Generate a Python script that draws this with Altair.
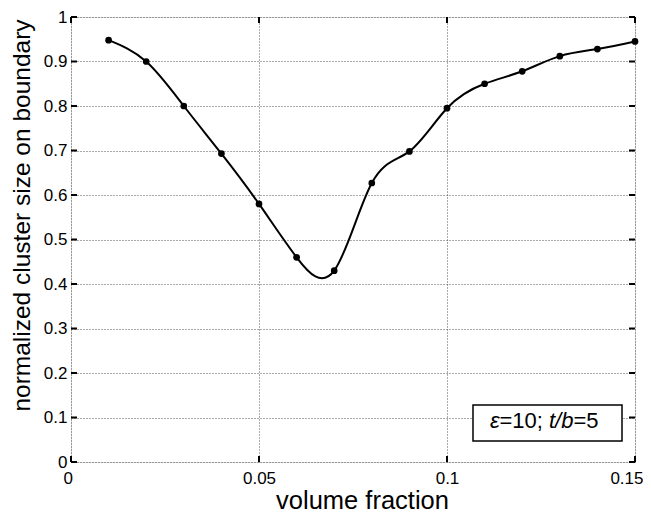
import altair as alt
import pandas as pd

vol_fraction = [0.01, 0.02, 0.03, 0.04, 0.05, 0.06, 0.07, 0.08, 0.09, 0.10, 0.11, 0.12, 0.13, 0.14, 0.15]
cluster_size = [0.948, 0.900, 0.800, 0.693, 0.580, 0.460, 0.430, 0.627, 0.698, 0.795, 0.850, 0.878, 0.912, 0.928, 0.945]
x_ticks = [0, 0.05, 0.1, 0.15]
y_ticks = [0, 0.1, 0.2, 0.3, 0.4, 0.5, 0.6, 0.7, 0.8, 0.9, 1.0]

W, H = 564, 445
FONT = "Liberation Sans"

df = pd.DataFrame({"x": vol_fraction, "y": cluster_size})
xt = pd.DataFrame({"x": x_ticks})
yt = pd.DataFrame({"y": y_ticks})

xs = alt.Scale(domain=[0, 0.15], nice=False, zero=False)
ys = alt.Scale(domain=[0, 1], nice=False, zero=False)

x_label_expr = "datum.value < 0.01 ? '0' : datum.value < 0.07 ? '0.05' : datum.value < 0.12 ? '0.1' : '0.15'"

x_axis = alt.Axis(values=x_ticks, labelExpr=x_label_expr,
                  title="volume fraction", grid=True, gridDash=[1, 2], gridColor="#555555",
                  gridWidth=1, ticks=False, domain=False, labelFont=FONT, labelFontSize=17,
                  labelColor="black", labelPadding=8, labelFlush=True, labelFlushOffset=8,
                  titleFont=FONT, titleFontSize=25.5,
                  titleFontWeight="normal", titleColor="black", titleBaseline="alphabetic",
                  titleX=291, titleY=46)
y_axis = alt.Axis(values=y_ticks, labelExpr="datum.value == 0 ? '0' : datum.value == 1 ? '1' : format(datum.value, '.1f')",
                  title="normalized  cluster size on boundary", grid=True, gridDash=[1, 2],
                  gridColor="#555555", gridWidth=1, ticks=False, domain=False, labelFont=FONT,
                  labelFontSize=17, labelColor="black", labelPadding=4, labelFlush=False, titleFont=FONT,
                  titleFontSize=24.5, titleFontWeight="normal", titleColor="black", titlePadding=9,
                  titleY=198)

base = alt.Chart(df)
line = base.mark_line(color="black", strokeWidth=2, interpolate="natural").encode(
    x=alt.X("x:Q", scale=xs, axis=x_axis),
    y=alt.Y("y:Q", scale=ys, axis=y_axis),
)
points = base.mark_point(shape="circle", filled=True, color="black", size=45, opacity=1).encode(
    x=alt.X("x:Q", scale=xs), y=alt.Y("y:Q", scale=ys)
)

tick_len = 6
xt_bottom = alt.Chart(xt).mark_rule(color="black", strokeWidth=2).encode(
    x=alt.X("x:Q", scale=xs), y=alt.value(H), y2=alt.value(H - tick_len))
xt_top = alt.Chart(xt).mark_rule(color="black", strokeWidth=2).encode(
    x=alt.X("x:Q", scale=xs), y=alt.value(0), y2=alt.value(tick_len))
yt_left = alt.Chart(yt).mark_rule(color="black", strokeWidth=2).encode(
    y=alt.Y("y:Q", scale=ys), x=alt.value(0), x2=alt.value(tick_len))
yt_right = alt.Chart(yt).mark_rule(color="black", strokeWidth=2).encode(
    y=alt.Y("y:Q", scale=ys), x=alt.value(W), x2=alt.value(W - tick_len))

box = alt.Chart(pd.DataFrame({"a": [0]})).mark_rect(fill="white", stroke="black", strokeWidth=1.5).encode(
    x=alt.value(402), x2=alt.value(551), y=alt.value(388), y2=alt.value(424))

def seg(txt, xpos, italic):
    return alt.Chart(pd.DataFrame({"t": [txt]})).mark_text(
        align="left", baseline="alphabetic", font=FONT, fontSize=22,
        fontStyle="italic" if italic else "normal", color="black").encode(
        x=alt.value(xpos), y=alt.value(411), text="t:N")

label = seg("ε", 419, True) + seg("=10;", 428.5, False) + seg("t/b", 478, True) + seg("=5", 502.5, False)

chart = alt.layer(line, points, xt_bottom, xt_top, yt_left, yt_right, box, label).properties(
    width=W, height=H, autosize=alt.AutoSizeParams(type="none"),
    padding={"left": 63, "top": 9, "right": 8, "bottom": 51},
).configure_view(stroke="black", strokeWidth=2.5).configure(background="white")

chart.save("out.html", embed_options={"renderer": "svg", "actions": False})
